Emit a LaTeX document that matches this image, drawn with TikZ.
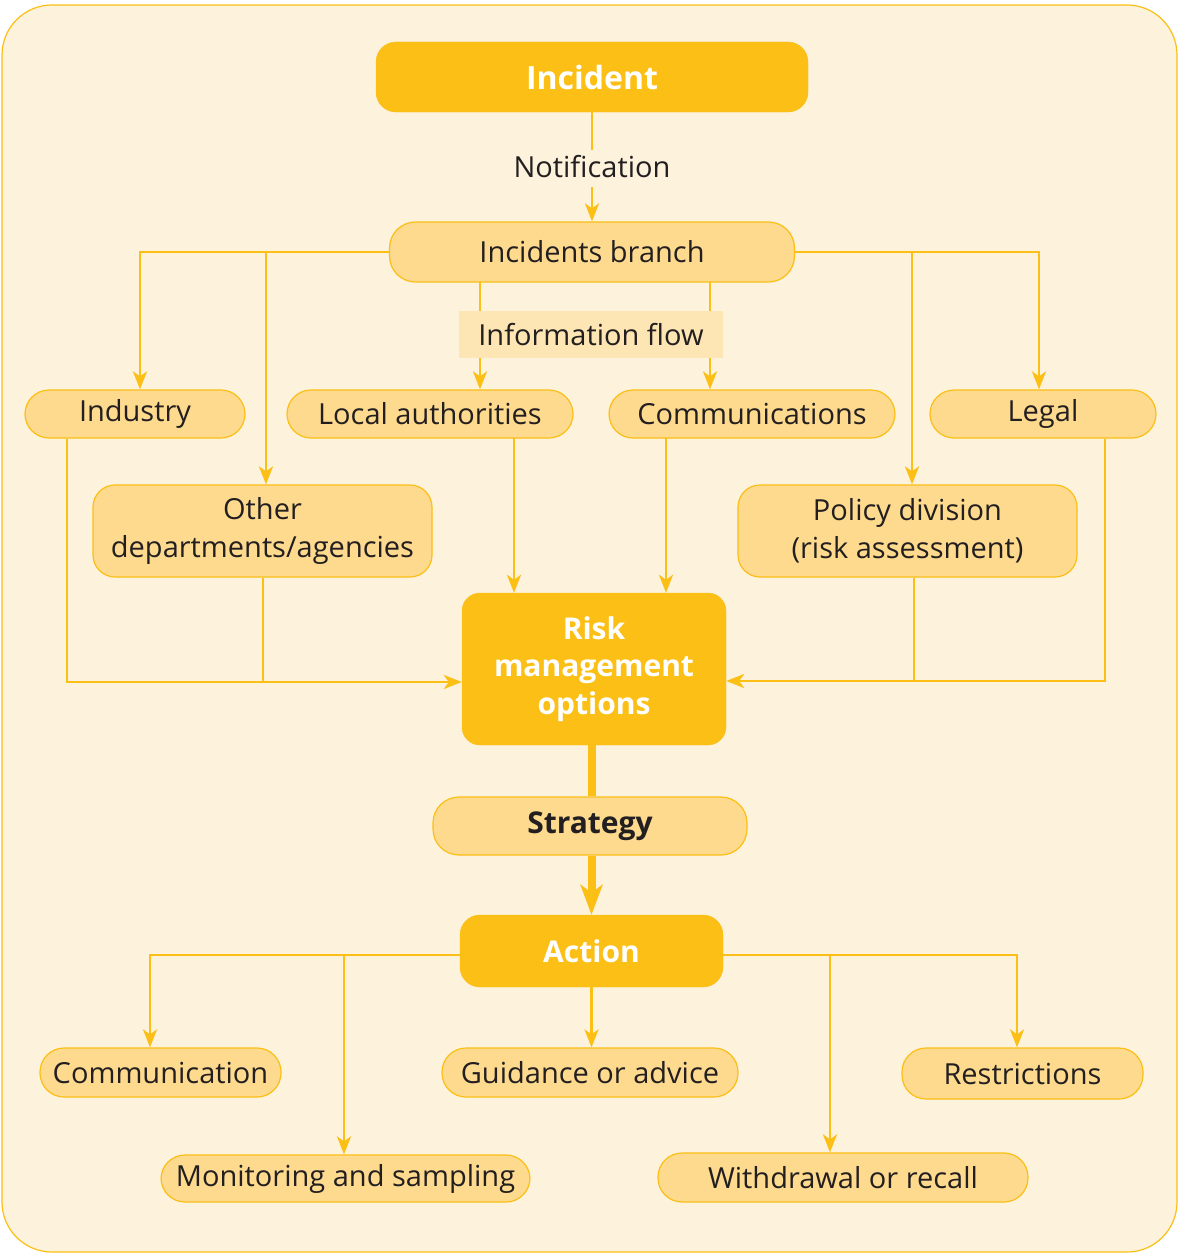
\documentclass[tikz,border=0pt]{standalone}
\usepackage{fontspec}
\setmainfont{Open Sans}
\usetikzlibrary{arrows.meta}
\definecolor{bgc}{HTML}{FDF2DC}
\definecolor{gold}{HTML}{FBBF15}
\definecolor{lightc}{HTML}{FDDA8E}
\definecolor{labc}{HTML}{FDE6B3}
\definecolor{txt}{HTML}{231F20}
\tikzset{
  box/.style={draw=gold, line width=1.2pt, fill=lightc, text=txt, align=center, inner sep=0pt,
    font=\fontsize{29}{38}\selectfont},
  pill/.style={box, rounded corners=24pt},
  bigbox/.style={box, rounded corners=22pt},
  darkbox/.style={fill=gold, draw=gold, text=white, align=center, inner sep=0pt,
    font=\fontsize{31}{37}\selectfont\bfseries},
  conn/.style={draw=gold, line width=2.8pt},
  arr/.style={conn, -{Stealth[length=18pt,width=14pt,inset=5pt]}},
  thick conn/.style={draw=gold, line width=8pt},
  lbl/.style={text=txt, inner sep=0pt, font=\fontsize{29}{34}\selectfont}
}
\begin{document}
\begin{tikzpicture}[x=1pt,y=-1pt]
\useasboundingbox (0,0) rectangle (1180,1255);
\draw[fill=bgc, draw=gold, line width=1.2pt, rounded corners=50pt] (2,5) rectangle (1177,1252);

% nodes
\node[darkbox, rounded corners=20pt, minimum width=432pt, minimum height=70pt, font=\fontsize{32}{37}\selectfont\bfseries] (inc) at (592,77) {Incident};
\node[lbl] (notif) at (592,167) {Notification};
\node[pill, rounded corners=26pt, minimum width=405pt, minimum height=60pt] (ib) at (592,252) {Incidents branch};

\node[pill, minimum width=220pt, minimum height=48pt] (ind) at (135,414) {Industry};
\node[pill, minimum width=286pt, minimum height=48pt] (la) at (430,414) {Local authorities};
\node[pill, minimum width=286pt, minimum height=48pt] (com) at (752,414) {Communications};
\node[pill, minimum width=226pt, minimum height=48pt] (leg) at (1043,414) {Legal};

\node[bigbox, minimum width=339pt, minimum height=92pt] (oth) at (262.5,531) {Other\\departments/agencies};
\node[bigbox, minimum width=339pt, minimum height=92pt] (pol) at (907.5,531) {Policy division\\(risk assessment)};

\node[darkbox, rounded corners=18pt, minimum width=264pt, minimum height=152pt, font=\fontsize{30}{37.5}\selectfont\bfseries] (risk) at (594,669) {Risk\\management\\options};
\node[pill, rounded corners=26pt, minimum width=314pt, minimum height=58pt, font=\fontsize{30}{36}\selectfont\bfseries] (str) at (590,826) {Strategy};
\node[darkbox, rounded corners=20pt, minimum width=263pt, minimum height=72pt, font=\fontsize{30}{36}\selectfont\bfseries] (act) at (591.5,951) {Action};

\node[pill, minimum width=241pt, minimum height=49pt] (cmn) at (160.5,1072.5) {Communication};
\node[pill, minimum width=296pt, minimum height=49pt] (gui) at (590,1072.5) {Guidance or advice};
\node[pill, minimum width=241pt, minimum height=51pt] (res) at (1022.5,1073.5) {Restrictions};
\node[pill, minimum width=369pt, minimum height=47pt] (mon) at (345.5,1178.5) {Monitoring and sampling};
\node[pill, minimum width=370pt, minimum height=49pt] (wdr) at (843,1177.5) {Withdrawal or recall};

% coordinates for junctions
\coordinate (cL1) at (140,252);
\coordinate (cL2) at (266,252);
\coordinate (cR1) at (912,252);
\coordinate (cR2) at (1039,252);
\coordinate (cLA) at (480,282);
\coordinate (cCO) at (710,282);
\coordinate (jL) at (67,682);
\coordinate (jO) at (263,682);
\coordinate (jR) at (1105,681);
\coordinate (jP) at (914,681);
\coordinate (jLA) at (514,438);
\coordinate (jCO) at (666,438);
\coordinate (aL1) at (150,955);
\coordinate (aL2) at (344,955);
\coordinate (aR1) at (830,955);
\coordinate (aR2) at (1017,955);

% incident -> notification -> branch
\draw[conn] (inc.south) -- ([yshift=6pt]notif.north);
\draw[arr] ([yshift=-9pt]notif.south) -- (ib.north);

% branch to top row
\draw[arr] (ib.west) -- (cL1) -- (cL1 |- ind.north);
\draw[arr] (cL2) -- (cL2 |- oth.north);
\draw[arr] (ib.east) -- (cR2) -- (cR2 |- leg.north);
\draw[arr] (cR1) -- (cR1 |- pol.north);
\draw[arr] (cLA) -- (cLA |- la.north);
\draw[arr] (cCO) -- (cCO |- com.north);
\node[fill=labc, minimum width=264pt, minimum height=47pt, inner sep=0pt, text=txt, font=\fontsize{29}{34}\selectfont] (info) at (591,334.5) {Information flow};

% to risk
\draw[conn] (jL |- ind.south) -- (jL) -- (jO);
\draw[arr] (jO |- oth.south) -- (jO) -- (jO -| risk.west);
\draw[conn] (jR |- leg.south) -- (jR) -- (jP);
\draw[arr] (jP |- pol.south) -- (jP) -- (jP -| risk.east);
\draw[arr] (jLA) -- (jLA |- risk.north);
\draw[arr] (jCO) -- (jCO |- risk.north);

% risk -> strategy -> action
\draw[thick conn] (risk.south -| act.north) -- (str.north -| act.north);
\draw[thick conn, -{Stealth[length=30pt,width=22pt,inset=8pt]}] (str.south -| act.north) -- (act.north);

% action to outcomes
\draw[arr] (act.west |- aL1) -- (aL1) -- (aL1 |- cmn.north);
\draw[arr] (aL2) -- (aL2 |- mon.north);
\draw[arr] (act.east |- aR2) -- (aR2) -- (aR2 |- res.north);
\draw[arr] (aR1) -- (aR1 |- wdr.north);
\draw[arr] (act.south) -- (act.south |- gui.north);
\end{tikzpicture}
\end{document}
